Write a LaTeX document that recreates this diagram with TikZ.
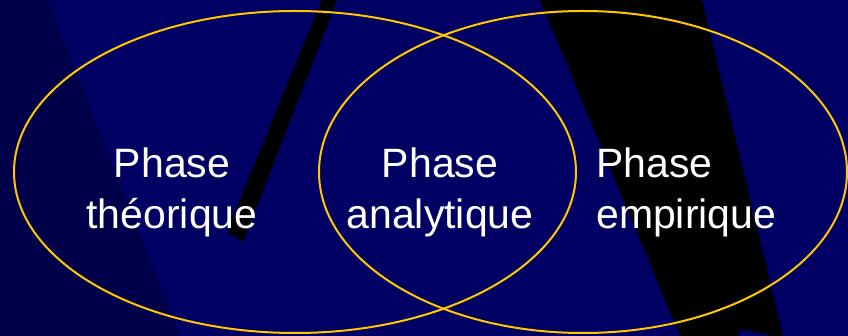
\documentclass[tikz,border=0pt]{standalone}
\usepackage{fontspec}
\setmainfont{Liberation Sans}
\definecolor{slateNavy}{RGB}{0, 0, 100}
\definecolor{deepNavy}{RGB}{0, 0, 74}
\definecolor{seamNavy}{RGB}{0, 0, 84}
\definecolor{phaseGold}{RGB}{255, 200, 0}
\usepackage{xcolor}
\usepackage{tikz}

\tikzset{
    phaseRing/.style={phaseGold, line width=2pt},
    phaseLabel/.style={text=white, inner sep=0pt, font=\fontsize{41}{51}\selectfont},
    seam/.style={seamNavy, line width=0.5pt}
}

\begin{document}
\begin{tikzpicture}[x=1pt, y=-1pt]
    % background and its slanted bands
    \fill[slateNavy] (0,0) rectangle (848,336);
    \useasboundingbox (0,0) rectangle (848,336);
    \fill[deepNavy] (0,0) -- (48,0) -- (180,336) -- (0,336) -- cycle;
    \foreach \top/\bot in {143/277, 222/340, 357/483, 400/530, 437/580}
        \draw[seam] (\top,0) -- (\bot,336);
    \fill[black] (322,0) -- (337,0) -- (243,242) -- (227,231) -- cycle;
    \fill[black] (540,0) -- (702,0) -- (783,336) -- (680,336) -- cycle;
    \fill[slateNavy] (738,336) -- (741,329) -- (772,336) -- cycle;

    % the two overlapping rings
    \draw[phaseRing] (295,172) ellipse [x radius=281, y radius=161];
    \draw[phaseRing] (583,172) ellipse [x radius=264, y radius=161];

    \node[phaseLabel, align=center] (theorique) at (172,192) {Phase\\théorique};
    \node[phaseLabel, align=center] (analytique) at (440,192) {Phase\\analytique};
    \node[phaseLabel, align=left, anchor=west] (empirique) at (596,192) {Phase\\empirique};
\end{tikzpicture}
\end{document}
